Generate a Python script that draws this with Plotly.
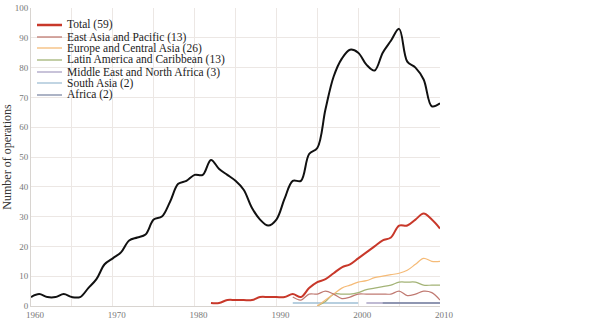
import plotly.graph_objects as go

# ---- data ----
years_all = list(range(1960, 2011))
overall = [3, 4, 3, 3, 4, 3, 3, 6, 9, 14,
           16, 18, 22, 23, 24, 29, 30, 35, 41, 42,
           44, 44, 49, 46, 44, 42, 39, 33, 29, 27,
           29, 36, 42, 42, 51, 53, 66, 77, 83, 86,
           85, 81, 79, 85, 89, 93, 82, 80, 76, 67,
           68]

years_total = list(range(1982, 2011))
total = [1, 1, 2, 2, 2, 2, 3, 3, 3, 3,
         4, 3, 6, 8, 9, 11, 13, 14, 16, 18,
         20, 22, 23, 27, 27, 29, 31, 29, 26]

years_eap = list(range(1992, 2011))
east_asia = [3, 2, 4, 4, 5, 4, 2.5, 3, 4, 4, 4, 4, 4, 5, 3.5, 4, 5, 4.5, 2]

years_eca = list(range(1995, 2011))
europe = [0, 2, 4, 6, 7, 8, 8.5, 9.5, 10, 10.5, 11, 12, 14, 16, 15, 15]

years_lac = list(range(1995, 2011))
latin = [0, 1.5, 4, 4, 4, 4.5, 5.5, 6, 6.5, 7, 8, 8, 8, 7, 7, 7]

years_sa = list(range(1992, 2001))
south_asia = [1] * len(years_sa)

years_mena = list(range(2001, 2011))
mena = [1] * len(years_mena)

years_afr = list(range(2003, 2011))
africa = [1] * len(years_afr)

legend_labels = ["Total (59)", "East Asia and Pacific (13)", "Europe and Central Asia (26)",
                 "Latin America and Caribbean (13)", "Middle East and North Africa (3)",
                 "South Asia (2)", "Africa (2)"]
colors = ["#c8382a", "#c07a72", "#f5bb78", "#a3b376", "#aaa3c4", "#9fbfd4", "#7f8aa6"]

fig = go.Figure()

def add(x, y, color, width):
    fig.add_trace(go.Scatter(x=x, y=y, mode="lines", showlegend=False,
                             line=dict(color=color, width=width, shape="spline"),
                             hoverinfo="skip"))

add(years_all, overall, "#111111", 2)
add(years_sa, south_asia, colors[5], 1.5)
add(years_mena, mena, colors[4], 1.5)
add(years_afr, africa, colors[6], 1.5)
add(years_lac, latin, colors[3], 1.2)
add(years_eca, europe, colors[2], 1.2)
add(years_eap, east_asia, colors[1], 1.2)
add(years_total, total, colors[0], 2)

# ---- manual legend (layout only) ----
L, T, W, H = 31, 8, 409, 298
def px2paper(px, py):
    return (px - L) / W, (T + H - py) / H

leg_y = [25, 37, 48, 60, 72, 83, 95]
shapes = []
annotations = []
for i, (lab, col) in enumerate(zip(legend_labels, colors)):
    x0, y0 = px2paper(37, leg_y[i])
    x1, _ = px2paper(62, leg_y[i])
    shapes.append(dict(type="line", xref="paper", yref="paper", x0=x0, x1=x1, y0=y0, y1=y0,
                       line=dict(color=col, width=2.5 if i == 0 else 1.3)))
    tx, _ = px2paper(65, leg_y[i])
    annotations.append(dict(xref="paper", yref="paper", x=tx, y=y0, text=lab, showarrow=False,
                            xanchor="left", yanchor="middle",
                            font=dict(family="Liberation Serif", size=11.5, color="#222")))

fig.update_layout(
    width=600, height=331,
    margin=dict(l=L, r=600 - L - W, t=T, b=331 - T - H),
    paper_bgcolor="white", plot_bgcolor="white",
    shapes=shapes, annotations=annotations,
    font=dict(family="Liberation Serif"),
    xaxis=dict(range=[1960, 2010], dtick=10, tick0=1960, showgrid=True, gridcolor="#ece7e4",
               minor=dict(dtick=5, showgrid=True, gridcolor="#ece7e4"),
               showline=True, linecolor="#d8d4d0", zeroline=False, ticks="",
               tickfont=dict(family="Liberation Serif", size=9, color="#777"),
               ticklabelshift=4, automargin=False),
    yaxis=dict(range=[0, 100], dtick=10, showgrid=True, gridcolor="#ece7e4",
               showline=True, linecolor="#d8d4d0", zeroline=False, ticks="",
               tickfont=dict(family="Liberation Serif", size=9, color="#777"),
               automargin=False,
               title=dict(text="Number of operations", standoff=0,
                          font=dict(family="Liberation Serif", size=12, color="#333"))),
)

fig.write_html("out.html")
